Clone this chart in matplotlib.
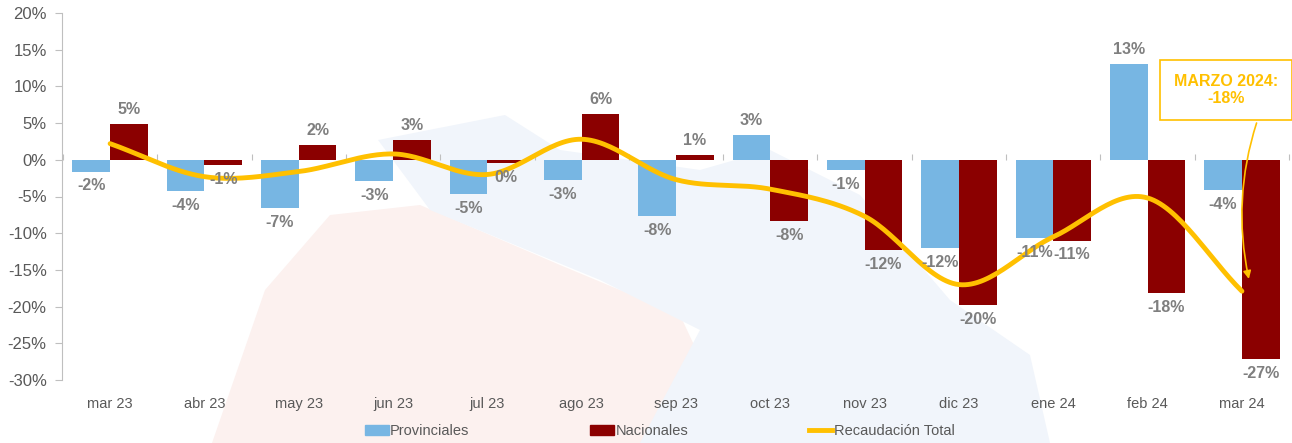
import numpy as np
import matplotlib
matplotlib.use("Agg")
import matplotlib.pyplot as plt
from matplotlib.patches import Polygon
from matplotlib.lines import Line2D
from matplotlib.patches import Patch
import matplotlib.font_manager as fm

categories = ["mar 23", "abr 23", "may 23", "jun 23", "jul 23", "ago 23", "sep 23",
              "oct 23", "nov 23", "dic 23", "ene 24", "feb 24", "mar 24"]
provinciales = [-1.6, -4.2, -6.6, -2.9, -4.6, -2.7, -7.6, 3.4, -1.4, -12.0, -10.6, 13.1, -4.1]
nacionales = [4.9, -0.7, 2.0, 2.7, -0.4, 6.2, 0.7, -8.3, -12.3, -19.8, -11.0, -18.1, -27.2]
total = [2.2, -2.3, -1.6, 0.8, -2.0, 2.8, -2.7, -4.0, -7.7, -17.0, -10.5, -5.2, -17.9]
yticks = list(range(-30, 25, 5))

names = {f.name for f in fm.fontManager.ttflist}
fam = ["Liberation Sans Narrow", "DejaVu Sans"] if "Liberation Sans Narrow" in names else ["Liberation Sans", "DejaVu Sans"]
plt.rcParams["font.family"] = fam

C_PROV = "#77B6E3"
C_NAC = "#8B0000"
C_TOT = "#FFC000"
GRAY = "#7F7F7F"
DGRAY = "#595959"

fig = plt.figure(figsize=(12.92, 4.43), dpi=100)

# faint background watermark shapes (figure pixel coords)
W, H = 1292, 443
def fp(pts):
    return [(x / W, 1 - y / H) for x, y in pts]
fig.patches.append(Polygon(fp([(212, 443), (265, 290), (330, 215), (420, 205), (560, 265),
                               (680, 315), (740, 443)]), closed=True, transform=fig.transFigure,
                           facecolor="#FCF1EF", edgecolor="none", zorder=-2))
fig.patches.append(Polygon(fp([(378, 140), (505, 115), (560, 150), (700, 170), (770, 150),
                               (860, 195), (950, 300), (1030, 355), (1050, 443), (640, 443),
                               (700, 330), (600, 280), (430, 210)]), closed=True,
                           transform=fig.transFigure, facecolor="#F1F5FB", edgecolor="none", zorder=-2))

ax = fig.add_axes([62 / W, 1 - 380 / H, (1290 - 62) / W, (380 - 13) / H])
ax.patch.set_alpha(0)
ax.set_zorder(1)

x = np.arange(len(categories))
bw = 0.4
ax.bar(x - bw / 2, provinciales, bw, color=C_PROV, zorder=2)
ax.bar(x + bw / 2, nacionales, bw, color=C_NAC, zorder=2)

def lab(xs, vals):
    for xi, v in zip(xs, vals):
        ax.annotate(f"{int(np.floor(v + 0.5)):d}%", (xi, v), xytext=(0, 5 if v >= 0 else -5),
                    textcoords="offset points", ha="center",
                    va="bottom" if v >= 0 else "top", fontsize=11.5, fontweight="bold",
                    color=GRAY, zorder=4)
lab(x - bw / 2, provinciales)
lab(x + bw / 2, nacionales)

# smooth line (Catmull-Rom through the points, like Excel smoothing)
def catmull(xs, ys, n=30):
    P = np.column_stack([xs, ys]).astype(float)
    P = np.vstack([2 * P[0] - P[1], P, 2 * P[-1] - P[-2]])
    out = []
    for i in range(1, len(P) - 2):
        p0, p1, p2, p3 = P[i - 1], P[i], P[i + 1], P[i + 2]
        t = np.linspace(0, 1, n, endpoint=False)[:, None]
        seg = 0.5 * ((2 * p1) + (-p0 + p2) * t + (2 * p0 - 5 * p1 + 4 * p2 - p3) * t ** 2
                     + (-p0 + 3 * p1 - 3 * p2 + p3) * t ** 3)
        out.append(seg)
    out.append(P[-2][None, :])
    S = np.vstack(out)
    return S[:, 0], S[:, 1]
sx, sy = catmull(x, total)
ax.plot(sx, sy, color=C_TOT, lw=3.5, solid_capstyle="round", zorder=3)

ax.set_xlim(-0.51, 12.51)
ax.set_ylim(-30, 20)
ax.set_yticks(yticks)
ax.set_yticklabels([f"{t}%" for t in yticks], fontsize=12, color=DGRAY)
ax.set_xticks(x)
ax.set_xticklabels(categories, fontsize=10.5, color=DGRAY)
ax.tick_params(axis="x", length=0, pad=12)
ax.tick_params(axis="y", length=5, color="#BFBFBF", pad=6)
for s in ["top", "right", "bottom"]:
    ax.spines[s].set_visible(False)
ax.spines["left"].set_color("#BFBFBF")

sec = ax.secondary_xaxis(30 / 50)
sec.set_xticks(np.arange(-0.5, 13, 1.0))
sec.set_xticklabels([])
sec.tick_params(length=4, color="#BFBFBF", direction="out")
sec.spines["bottom"].set_color("#BFBFBF")
sec.spines["top"].set_visible(False)

# annotation box
ax.annotate("MARZO 2024:\n-18%", xy=(12.08, total[-1] + 1.3), xycoords="data",
            xytext=(1226 / W, 1 - 90 / H), textcoords="figure fraction",
            ha="center", va="center", fontsize=11.5, fontweight="bold", color=C_TOT,
            bbox=dict(boxstyle="square,pad=0.85", fc="white", ec=C_TOT, lw=1.2),
            arrowprops=dict(arrowstyle="-|>", color=C_TOT, lw=1.2,
                            connectionstyle="arc3,rad=0.15",
                            relpos=(0.85, 0.0)), zorder=5)

handles = [Patch(color=C_PROV), Patch(color=C_NAC), Line2D([], [], color=C_TOT, lw=3.5)]
fig.legend(handles, ["Provinciales", "Nacionales", "Recaudación Total"], loc="center",
           bbox_to_anchor=(660 / W, 1 - 431 / H), ncol=3, frameon=False, fontsize=10.5,
           labelcolor=DGRAY, columnspacing=8.3, handlelength=1.6, handletextpad=0.1)

fig.savefig("out.png", dpi=100)
